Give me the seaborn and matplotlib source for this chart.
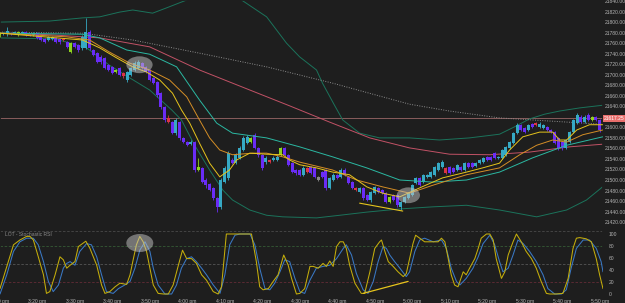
import numpy as np
import pandas as pd
import seaborn as sns
import matplotlib.pyplot as plt
from matplotlib.patches import Ellipse

# ---- candles, one per minute from 3:10 pm ----
opens = [21776, 21777, 21777, 21779, 21779, 21776, 21779, 21781, 21777, 21776,
         21779, 21772, 21768, 21766, 21768, 21770, 21768, 21768, 21762, 21743,
         21760, 21757, 21751, 21751, 21781, 21747, 21741, 21734, 21732, 21719,
         21715, 21705, 21713, 21703, 21690, 21700, 21709, 21713, 21722, 21715,
         21709, 21694, 21686, 21665, 21639, 21610, 21610, 21589, 21610, 21580,
         21572, 21568, 21572, 21519, 21523, 21500, 21492, 21485, 21466, 21449,
         21496, 21504, 21538, 21532, 21542, 21557, 21570, 21572, 21586, 21561,
         21548, 21534, 21538, 21538, 21538, 21548, 21561, 21548, 21532, 21519,
         21519, 21510, 21523, 21525, 21523, 21506, 21515, 21519, 21485, 21500,
         21510, 21506, 21519, 21506, 21496, 21485, 21477, 21485, 21472, 21462,
         21475, 21485, 21481, 21475, 21458, 21472, 21472, 21449, 21458, 21466,
         21472, 21494, 21504, 21496, 21506, 21506, 21510, 21519, 21525, 21523,
         21525, 21523, 21519, 21525, 21519, 21532, 21532, 21527, 21532, 21534,
         21544, 21544, 21551, 21542, 21542, 21548, 21561, 21570, 21589, 21605,
         21599, 21595, 21606, 21608, 21601, 21599, 21601, 21595, 21591, 21580,
         21572, 21561, 21572, 21591, 21608, 21620, 21610, 21624, 21614, 21620, 21614]
closes = [21779, 21779, 21783, 21777, 21781, 21781, 21781, 21776, 21776, 21779,
          21770, 21766, 21762, 21772, 21772, 21762, 21762, 21766, 21753, 21760,
          21753, 21747, 21772, 21781, 21751, 21738, 21724, 21724, 21713, 21709,
          21703, 21709, 21700, 21698, 21705, 21713, 21722, 21724, 21713, 21705,
          21690, 21684, 21662, 21639, 21614, 21618, 21589, 21614, 21580, 21572,
          21567, 21572, 21519, 21525, 21496, 21491, 21481, 21466, 21449, 21500,
          21523, 21551, 21532, 21548, 21561, 21580, 21582, 21580, 21561, 21548,
          21523, 21542, 21534, 21542, 21544, 21561, 21548, 21529, 21515, 21513,
          21510, 21523, 21515, 21513, 21506, 21500, 21506, 21485, 21504, 21510,
          21504, 21519, 21510, 21494, 21485, 21481, 21485, 21466, 21462, 21477,
          21487, 21477, 21475, 21458, 21468, 21462, 21453, 21458, 21468, 21475,
          21491, 21504, 21491, 21510, 21510, 21515, 21525, 21532, 21534, 21513,
          21513, 21515, 21529, 21519, 21532, 21525, 21525, 21532, 21538, 21542,
          21538, 21538, 21542, 21544, 21557, 21563, 21572, 21589, 21605, 21595,
          21591, 21605, 21601, 21605, 21606, 21605, 21595, 21591, 21570, 21561,
          21561, 21576, 21591, 21614, 21624, 21610, 21620, 21614, 21620, 21614, 21595]
highs = [21781, 21781, 21791, 21781, 21783, 21783, 21783, 21783, 21779, 21781,
         21781, 21774, 21770, 21774, 21774, 21772, 21770, 21770, 21764, 21762,
         21762, 21759, 21775, 21808, 21785, 21749, 21743, 21737, 21734, 21721,
         21717, 21711, 21715, 21705, 21707, 21715, 21726, 21728, 21724, 21717,
         21711, 21696, 21688, 21667, 21641, 21623, 21612, 21618, 21612, 21582,
         21574, 21576, 21574, 21541, 21525, 21503, 21494, 21487, 21468, 21503,
         21526, 21555, 21542, 21551, 21564, 21583, 21585, 21582, 21589, 21563,
         21550, 21545, 21540, 21545, 21547, 21563, 21563, 21549, 21534, 21521,
         21521, 21526, 21525, 21527, 21525, 21508, 21517, 21521, 21506, 21513,
         21511, 21523, 21523, 21508, 21498, 21487, 21487, 21487, 21474, 21479,
         21489, 21487, 21483, 21477, 21470, 21474, 21474, 21460, 21470, 21477,
         21493, 21506, 21506, 21511, 21511, 21517, 21527, 21534, 21538, 21525,
         21527, 21525, 21531, 21527, 21534, 21534, 21534, 21534, 21540, 21544,
         21546, 21546, 21553, 21546, 21559, 21565, 21574, 21591, 21608, 21607,
         21601, 21607, 21608, 21610, 21610, 21607, 21603, 21597, 21593, 21582,
         21574, 21578, 21593, 21616, 21627, 21623, 21623, 21627, 21622, 21622, 21616]
lows = [21772, 21775, 21774, 21775, 21777, 21774, 21777, 21774, 21773, 21774,
        21768, 21764, 21760, 21764, 21766, 21760, 21758, 21764, 21751, 21741,
        21751, 21743, 21747, 21749, 21747, 21735, 21722, 21720, 21711, 21707,
        21701, 21703, 21697, 21694, 21686, 21697, 21707, 21711, 21711, 21703,
        21688, 21682, 21658, 21635, 21610, 21608, 21587, 21585, 21576, 21570,
        21564, 21566, 21515, 21517, 21494, 21485, 21479, 21462, 21439, 21445,
        21494, 21500, 21530, 21530, 21540, 21555, 21568, 21570, 21559, 21544,
        21519, 21530, 21532, 21536, 21536, 21546, 21546, 21526, 21513, 21509,
        21507, 21507, 21513, 21511, 21504, 21498, 21504, 21481, 21483, 21498,
        21502, 21504, 21508, 21492, 21483, 21479, 21475, 21462, 21460, 21458,
        21473, 21475, 21473, 21456, 21456, 21460, 21449, 21443, 21456, 21464,
        21470, 21492, 21489, 21494, 21504, 21504, 21508, 21517, 21523, 21511,
        21511, 21513, 21517, 21517, 21517, 21523, 21523, 21525, 21530, 21532,
        21536, 21536, 21540, 21540, 21540, 21546, 21559, 21568, 21587, 21593,
        21589, 21593, 21599, 21603, 21599, 21597, 21593, 21589, 21568, 21557,
        21557, 21559, 21570, 21589, 21606, 21608, 21608, 21612, 21612, 21612, 21591]
# bar type: t = up, p = down, l = strong up, r = strong down, g = neutral
candle_kind = list("lttptltppt" "pppttpprpl" "ppttpppppp" "plprttttpp" "ppppprptpp"
                   "ptplpppppt" "ttpttttlpp" "ptrttlpppp" "ptrppgpptt" "ptppprtppt"
                   "tppplppttt" "ttpttttttr" "pptptppttt" "pppttttttp" "ptprttpppp"
                   "pttttptplpp")
last_price = 21617.25

# ---- overlay lines (minute, price) ----
ema_fast_t = [0, 22.1, 26.7, 31.2, 35.5, 39.2, 42.7, 46.1, 48.5, 50.7, 53.3, 56, 58.7, 61.3,
              63.2, 66.7, 71.2, 75.5, 77.3, 80, 84.5, 88.8, 93.3, 97.9, 102.1, 106.7, 112,
              118.1, 124.5, 128.8, 133.3, 136, 139.5, 144, 147.5, 149.3, 151.2, 153.9, 157.3, 160.8]
ema_fast_p = [21779, 21766, 21751, 21732, 21715, 21705, 21690, 21665, 21633, 21608, 21570, 21532,
              21506, 21519, 21538, 21551, 21549, 21548, 21538, 21529, 21523, 21515, 21510, 21487,
              21475, 21468, 21485, 21504, 21515, 21523, 21532, 21557, 21582, 21591, 21591, 21576,
              21576, 21595, 21605, 21605]
ema_mid_t = [0, 17.9, 24, 29.3, 34.7, 40, 45.3, 49.9, 53.3, 56, 58.7, 62.1, 67.5, 71.2, 75.5,
             80, 88.8, 95.2, 102.1, 109.3, 115.5, 124.5, 133.3, 138.7, 143.2, 147.5, 151.2, 155.5, 160.8]
ema_mid_p = [21779, 21772, 21766, 21743, 21722, 21709, 21690, 21658, 21614, 21580, 21557, 21548,
             21551, 21551, 21544, 21534, 21519, 21500, 21487, 21475, 21490, 21510, 21523, 21548,
             21566, 21576, 21572, 21586, 21595]
sma_t = [0, 22.1, 26.7, 33.9, 40, 47.2, 53.3, 57.9, 62.1, 71.2, 80, 88.8, 97.9, 106.7, 115.5,
         124.5, 133.3, 142.1, 151.2, 160.8]
sma_p = [21779, 21777, 21770, 21747, 21739, 21715, 21652, 21608, 21589, 21580, 21563, 21544,
         21523, 21500, 21496, 21500, 21515, 21542, 21566, 21582]
ma_slow_t = [0, 13.3, 26.7, 40, 53.3, 66.7, 77.3, 88, 98.7, 109.3, 120, 130.7, 141.3, 152, 160.8]
ma_slow_p = [21779, 21776, 21770, 21753, 21709, 21671, 21641, 21610, 21580, 21561, 21549, 21548,
             21553, 21563, 21568]
ma_long_t = [0, 22.1, 35.5, 53.3, 71.2, 88.8, 109.3, 120, 133.3, 146.7, 160.8]
ma_long_p = [21781, 21779, 21766, 21741, 21715, 21684, 21644, 21631, 21618, 21612, 21606]
bb_up_t = [0, 13.3, 22.1, 26.7, 32, 35.5, 40.8, 44.5, 49.9, 54.7, 60, 64.5, 71.2, 76.5, 80,
           84.5, 86.1, 89.3, 91.5, 96, 101.3, 109.3, 117.3, 125.3, 133.3, 137.3, 141.3, 145.3,
           149.3, 154.7, 160.8]
bb_up_p = [21800, 21802, 21808, 21810, 21819, 21823, 21817, 21827, 21842, 21861, 21865, 21842,
           21810, 21760, 21734, 21709, 21684, 21642, 21614, 21589, 21580, 21580, 21576, 21580,
           21587, 21601, 21616, 21625, 21631, 21637, 21642]
bb_lo_t = [0, 14.7, 17.9, 23.2, 29.3, 34.7, 40, 45.9, 48.5, 52, 56, 59.5, 62.1, 66.7, 71.2,
           75.5, 84.5, 90.7, 97.9, 106.7, 115.5, 124.5, 133.3, 143.2, 151.2, 156.5, 160.8]
bb_lo_p = [21770, 21768, 21762, 21751, 21718, 21694, 21671, 21633, 21614, 21566, 21519, 21481,
           21462, 21443, 21433, 21430, 21428, 21433, 21439, 21445, 21449, 21452, 21443, 21430,
           21443, 21462, 21487]
trend_main_t = [96, 107.5]
trend_main_p = [21456, 21441]

# ---- stochastic RSI ----
k_t = [0, 3.6, 5.3, 7.1, 8, 8.9, 9.8, 11.6, 12.4, 13.3, 14.7, 16, 16.9, 17.8, 18.7, 20, 20.9,
       22.9, 24, 25.8, 27.1, 28, 29.3, 30.7, 32, 33.8, 34.7, 35.6, 36.4, 37.3, 38.2, 39.1, 40,
       40.9, 42.2, 43.6, 44.9, 46.2, 47.6, 48.7, 49.8, 51.1, 52.4, 53.8, 55.1, 56.9, 58.2, 59.1,
       60.4, 64, 67.1, 68.4, 69.3, 70.2, 71.6, 72.9, 74.2, 75.7, 76.9, 77.8, 79.1, 80, 81.3, 82.7,
       83.6, 84.9, 86.2, 87.1, 88, 88.9, 89.8, 90.7, 91.6, 92.4, 93.3, 94.7, 96.4, 97.3, 98.7, 100,
       101.3, 101.8, 102.7, 103.6, 104.9, 106.2, 107.6, 108.4, 109.3, 110.2, 110.9, 112, 113.3,
       115.6, 116.9, 117.8, 118.7, 119.6, 120.4, 121.3, 122.2, 123.6, 124.4, 125.3, 126.7, 127.6,
       128.4, 129.8, 130.7, 131.6, 132.4, 133.8, 134.7, 135.6, 136.9, 137.8, 139.1, 140.4, 141.8,
       143.1, 144.4, 145.8, 146.7, 148.4, 150.2, 151.6, 152.9, 153.8, 154.7, 156.4, 157.8, 159.1,
       160, 160.9]
k_v = [9, 82, 90, 96, 96, 90, 71, 32, 1, 4, 32, 62, 57, 43, 48, 54, 79,
       88, 76, 48, 15, 1, 4, 12, 18, 16, 32, 59, 82, 96, 87, 71, 43,
       15, 1, 0, 0, 15, 48, 73, 59, 59, 51, 32, 23, 4, 0, 12,
       100, 100, 100, 54, 12, 7, 9, 21, 32, 65, 48, 26, 0, 1, 9, 46,
       46, 43, 51, 46, 55, 46, 79, 87, 87, 76, 48, 18, 1, 1, 37, 76,
       87, 90, 71, 54, 46, 37, 29, 34, 59, 84, 98, 93, 87,
       87, 87, 93, 87, 59, 32, 15, 12, 37, 32, 43, 59, 76,
       93, 100, 100, 90, 59, 26, 37, 65, 87, 100, 87, 71, 59,
       43, 21, 1, 0, 0, 1, 26, 76, 93, 94, 92, 87, 59,
       32, 9]
d_t = [0, 1.8, 3.6, 5.3, 7.1, 8.9, 10.2, 11.6, 12.9, 14.2, 15.6, 16.9, 17.8, 18.7, 20, 21.3,
       23.1, 24.4, 25.8, 27.1, 28.4, 30.2, 31.6, 33.3, 34.7, 36, 37.3, 38.7, 40, 40.9, 42.2, 44,
       45.8, 47.1, 48.4, 49.8, 51.1, 52.4, 53.8, 55.1, 56.9, 58.7, 60, 61.3, 62.7, 64, 66.7, 68,
       69.3, 70.7, 72, 73.3, 74.7, 76, 77.3, 78.7, 80, 81.3, 82.7, 84.4, 86.2, 88, 89.8, 91.6,
       92.4, 93.8, 95.1, 96.9, 98.2, 99.6, 100.9, 102.2, 103.1, 104, 105.3, 106.7, 108.4, 109.3,
       110.7, 112, 113.3, 115.6, 117.8, 119.1, 120.4, 121.8, 122.7, 124.4, 126.2, 127.6, 128.9,
       130.7, 132, 133.3, 134.2, 135.6, 136.9, 138.2, 139.6, 141.3, 143.1, 144.9, 146.2, 148,
       149.8, 151.1, 152.4, 153.8, 155.6, 157.3, 159.1, 160.4, 160.9]
d_v = [0, 32, 71, 87, 93, 93, 82, 54, 21, 4, 15, 43, 51, 54, 48, 71,
       84, 82, 62, 32, 4, 1, 9, 15, 21, 43, 73, 87, 71, 43, 15, 0,
       0, 15, 43, 59, 62, 54, 43, 32, 15, 1, 32, 82, 98, 100, 100, 82,
       43, 9, 7, 18, 37, 57, 54, 26, 4, 1, 23, 43, 46, 48, 59, 76,
       82, 65, 34, 7, 1, 21, 54, 79, 76, 65, 54, 43, 29, 37,
       71, 90, 93, 87, 90, 76, 43, 21, 15, 26, 43, 62, 84,
       98, 82, 54, 37, 43, 65, 90, 84, 71, 54, 32, 9, 0,
       0, 7, 43, 76, 90, 90, 76, 54, 37]
trend_osc_t = [96.9, 108.9]
trend_osc_v = [1, 21]

tick_minutes = [0, 10, 20, 30, 40, 50, 60, 70, 80, 90, 100, 110, 120, 130, 140, 150, 160]
tick_labels = ["3:10 pm", "3:20 pm", "3:30 pm", "3:40 pm", "3:50 pm", "4:00 pm", "4:10 pm",
               "4:20 pm", "4:30 pm", "4:40 pm", "4:50 pm", "5:00 pm", "5:10 pm", "5:20 pm",
               "5:30 pm", "5:40 pm", "5:50 pm"]
price_ticks = [21420, 21440, 21460, 21480, 21500, 21520, 21540, 21560, 21580, 21600,
               21640, 21660, 21680, 21700, 21720, 21740, 21760, 21780, 21800, 21820, 21840]
osc_ticks = [0, 20, 40, 60, 80, 100]

BG = "#1e1e1e"
TXT = "#b4b4b4"
kind_colors = {"t": "#36a9c4", "p": "#6a2cf6", "l": "#8fd31e", "r": "#dd3344", "g": "#8a8a8a"}

sns.set_theme(style="dark", rc={"axes.facecolor": BG, "figure.facecolor": BG,
                                "axes.edgecolor": BG, "axes.grid": False})
plt.rcParams["font.family"] = ["Liberation Sans", "DejaVu Sans"]

W, H = 625, 303
fig = plt.figure(figsize=(W / 100, H / 100), dpi=100)
ax = fig.add_axes([0, 1 - 228 / H, 603 / W, 228 / H])
ax2 = fig.add_axes([0, 1 - 297 / H, 603 / W, 69 / H])

# candles
bars = pd.DataFrame({"o": opens, "c": closes, "h": highs, "l": lows, "k": candle_kind})
bars["m"] = np.arange(len(bars))
for _, r in bars.iterrows():
    col = kind_colors[r.k]
    ax.vlines(r.m, r.l, r.h, color=col, lw=0.6, zorder=3)
    body = max(abs(r.c - r.o), 1.0)
    ax.bar(r.m, body, bottom=min(r.o, r.c), width=0.75, color=col, lw=0, zorder=4)

# overlays
LW = 0.7
sns.lineplot(x=bb_up_t, y=bb_up_p, ax=ax, color="#1b735b", lw=LW, zorder=2)
sns.lineplot(x=bb_lo_t, y=bb_lo_p, ax=ax, color="#1b735b", lw=LW, zorder=2)
sns.lineplot(x=ma_long_t, y=ma_long_p, ax=ax, color="#8c8c8c", lw=0.7, ls=(0, (1, 1.5)), zorder=2)
sns.lineplot(x=ma_slow_t, y=ma_slow_p, ax=ax, color="#c25266", lw=LW, zorder=2)
sns.lineplot(x=sma_t, y=sma_p, ax=ax, color="#2bb8a2", lw=LW, zorder=5)
sns.lineplot(x=ema_mid_t, y=ema_mid_p, ax=ax, color="#d48e26", lw=LW, zorder=5)
sns.lineplot(x=ema_fast_t, y=ema_fast_p, ax=ax, color="#e6c41c", lw=LW, zorder=5)
sns.lineplot(x=trend_main_t, y=trend_main_p, ax=ax, color="#e6c41c", lw=0.8, zorder=5)

ax.axhline(last_price, color="#9a6666", lw=0.6, zorder=1)
ax.add_patch(Ellipse((37.3, 21719), 7.0, 32, facecolor="#c8c8c8", alpha=0.5, lw=0, zorder=6))
ax.add_patch(Ellipse((109, 21471), 6.2, 30, facecolor="#c8c8c8", alpha=0.5, lw=0, zorder=6))

ax.set_xlim(0.1, 160.9)
ax.set_ylim(21408.8, 21842)
ax.set_xticks([])
ax.yaxis.tick_right()
ax.set_yticks(price_ticks)
ax.set_yticklabels([f"{v:.2f}" for v in price_ticks])
ax.tick_params(axis="y", length=0, pad=1.2, labelsize=3.6, colors=TXT)
ax.set_xlabel("")
ax.set_ylabel("")
ax.text(1.002, last_price, f"{last_price:.2f}", transform=ax.get_yaxis_transform(),
        fontsize=3.6, color="white", va="center", ha="left", clip_on=False, zorder=10,
        bbox=dict(boxstyle="square,pad=0.15", fc="#e86e6c", ec="none"))

# stochastic RSI panel
for lvl, col in [(105, "#4a4a4a"), (80, "#355c35"), (50, "#555555"), (20, "#632c36")]:
    ax2.axhline(lvl, color=col, lw=0.6, ls=(0, (3, 2)), zorder=1)
sns.lineplot(x=d_t, y=d_v, ax=ax2, color="#3a78c4", lw=0.75, zorder=3)
sns.lineplot(x=k_t, y=k_v, ax=ax2, color="#c4ae0c", lw=0.75, zorder=4)
sns.lineplot(x=trend_osc_t, y=trend_osc_v, ax=ax2, color="#e6c41c", lw=0.9, zorder=4)
ax2.add_patch(Ellipse((37.3, 85), 7.2, 30, facecolor="#c8c8c8", alpha=0.5, lw=0, zorder=6))
ax2.text(5 / 603, 0.9, "LOT - Stochastic RSI", transform=ax2.transAxes,
         fontsize=3.6, color="#8c8c8c", va="center", ha="left")

ax2.set_xlim(0.1, 160.9)
ax2.set_ylim(-5, 110)
ax2.yaxis.tick_right()
ax2.set_yticks(osc_ticks)
ax2.set_yticklabels([str(v) for v in osc_ticks])
ax2.set_xticks(tick_minutes)
ax2.set_xticklabels(tick_labels)
ax2.tick_params(axis="both", length=0, pad=1.5, labelsize=3.6, colors=TXT)
ax2.tick_params(axis="y", pad=4)
ax2.set_xlabel("")
ax2.set_ylabel("")

fig.savefig("out.png", dpi=100, facecolor=BG)
